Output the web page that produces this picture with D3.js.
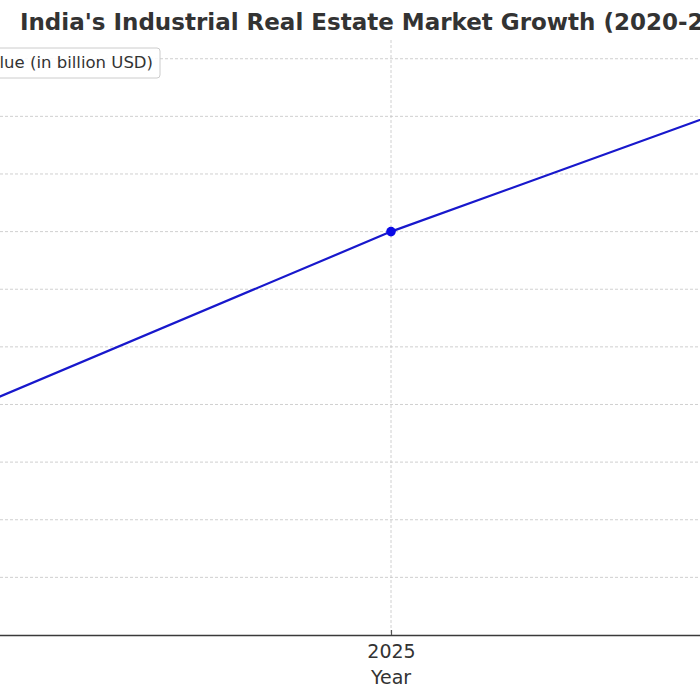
<!DOCTYPE html>
<html>
<head>
<meta charset="utf-8">
<script src="https://cdn.jsdelivr.net/npm/d3@7"></script>
<style>
  html, body { margin: 0; padding: 0; background: #fff; overflow: hidden; }
  svg { display: block; font-family: "DejaVu Sans", sans-serif; }
</style>
</head>
<body>
<svg id="chart" width="700" height="700"></svg>
<script>
// Data
const years = [2020, 2025, 2030];
const marketValue = [7, 14, 20];
const xTickLabels = ["2020", "2025", "2030"];
const yTicks = [0, 2, 4, 6, 8, 10, 12, 14, 16, 18, 20];
const titleText = "India's Industrial Real Estate Market Growth (2020-2030)";
const seriesName = "Market Value (in billion USD)";
const xLabel = "Year";

const W = 700;
const svg = d3.select("#chart");

// plot area (extends beyond the visible 700x700 frame, as in the reference crop)
const plot = { left: -135, right: 917, top: 40, bottom: 635 };

const x = d3.scaleLinear().domain([2019.5, 2030.5]).range([plot.left, plot.right]);
const y = d3.scaleLinear().domain([0, 20.65]).range([plot.bottom, plot.top]);

// grid
const grid = svg.append("g").attr("class", "grid");
grid.selectAll("line.h").data(yTicks.filter(d => d > 0)).enter().append("line")
  .attr("x1", plot.left).attr("x2", plot.right)
  .attr("y1", d => y(d)).attr("y2", d => y(d))
  .attr("stroke", "#c4c4c4").attr("stroke-width", 0.8).attr("stroke-dasharray", "3,2");
grid.selectAll("line.v").data(years).enter().append("line")
  .attr("x1", d => x(d)).attr("x2", d => x(d))
  .attr("y1", plot.top).attr("y2", plot.bottom)
  .attr("stroke", "#c4c4c4").attr("stroke-width", 0.8).attr("stroke-dasharray", "3,2");

// x axis
const xAxis = d3.axisBottom(x).tickValues(years)
  .tickFormat((d, i) => xTickLabels[i]).tickSize(0).tickPadding(0);
const gx = svg.append("g").attr("transform", `translate(0,${plot.bottom})`).call(xAxis);
gx.select(".domain").attr("stroke", "#3a3a3a").attr("stroke-width", 1.6);
gx.selectAll(".tick text").attr("font-size", "19px").attr("fill", "#333")
  .attr("font-family", "DejaVu Sans, sans-serif").attr("dy", null).attr("y", 23);
gx.selectAll(".tick").append("line").attr("y1", 0).attr("y2", -5)
  .attr("stroke", "#555").attr("stroke-width", 1.2);
// only labels inside the visible frame are shown (the reference is a crop)
gx.selectAll(".tick").filter(d => x(d) < 0 || x(d) > W).select("text").remove();

// x label
svg.append("text").attr("x", x(2025)).attr("y", 684).attr("text-anchor", "middle")
  .attr("font-size", "19px").attr("fill", "#333").text(xLabel);

// title
svg.append("text").attr("x", (plot.left + plot.right) / 2).attr("y", 30)
  .attr("text-anchor", "middle").attr("font-size", "23px").attr("font-weight", "bold")
  .attr("fill", "#333").text(titleText);

// line
const data = years.map((yr, i) => ({ yr, v: marketValue[i] }));
const line = d3.line().x(d => x(d.yr)).y(d => y(d.v));
svg.append("path").datum(data).attr("d", line)
  .attr("fill", "none").attr("stroke", "#1818cc").attr("stroke-width", 2.2);
svg.selectAll("circle.pt").data(data).enter().append("circle")
  .attr("cx", d => x(d.yr)).attr("cy", d => y(d.v)).attr("r", 4.8)
  .attr("fill", "#0a0ae6");

// legend (text right end aligned at ~153)
const legG = svg.append("g");
const legRect = legG.append("rect");
const legText = legG.append("text").attr("x", 153).attr("y", 68)
  .attr("text-anchor", "end").attr("font-size", "16.5px").attr("fill", "#333").text(seriesName);
const bb = legText.node().getBBox();
const handleLen = 33, pad = 13;
const boxLeft = bb.x - pad - handleLen - 8;
legRect.attr("x", boxLeft).attr("y", 48).attr("width", 160 - boxLeft).attr("height", 30)
  .attr("rx", 3).attr("fill", "#fff").attr("fill-opacity", 0.85)
  .attr("stroke", "#cccccc").attr("stroke-width", 1);
legG.append("line").attr("x1", bb.x - pad - handleLen).attr("x2", bb.x - pad)
  .attr("y1", 63).attr("y2", 63).attr("stroke", "#1818cc").attr("stroke-width", 2.2);
legG.append("circle").attr("cx", bb.x - pad - handleLen / 2).attr("cy", 63).attr("r", 4.8).attr("fill", "#0a0ae6");
</script>
</body>
</html>
